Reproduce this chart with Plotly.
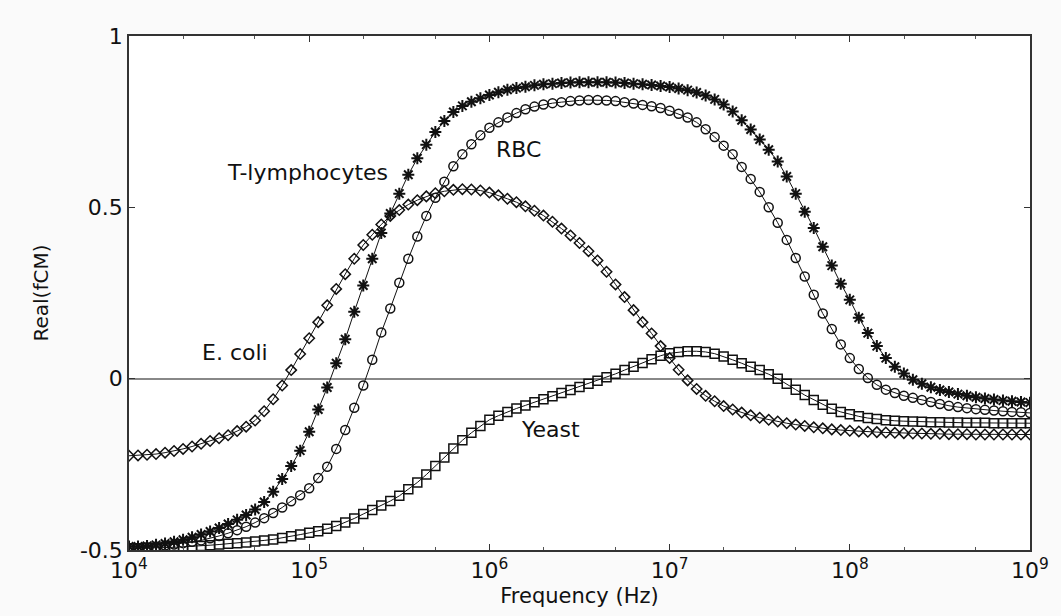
import numpy as np
import plotly.graph_objects as go

# Frequency grid (Hz): 101 log-spaced samples from 1e4 to 1e9
freq = np.logspace(4, 9, 101)

t_lymphocytes = [
    -0.490, -0.490, -0.488, -0.485, -0.481, -0.476, -0.470, -0.463, -0.455, -0.446,
    -0.436, -0.424, -0.412, -0.398, -0.382, -0.360, -0.330, -0.293, -0.255, -0.210,
    -0.155, -0.090, -0.026, 0.045, 0.115, 0.195, 0.272, 0.350, 0.425, 0.482,
    0.540, 0.595, 0.643, 0.683, 0.720, 0.752, 0.778, 0.796, 0.808, 0.818,
    0.828, 0.836, 0.843, 0.848, 0.852, 0.856, 0.859, 0.861, 0.863, 0.864,
    0.865, 0.865, 0.865, 0.865, 0.864, 0.863, 0.861, 0.859, 0.857, 0.854,
    0.851, 0.847, 0.842, 0.835, 0.826, 0.815, 0.800, 0.780, 0.754, 0.727,
    0.698, 0.668, 0.634, 0.590, 0.540, 0.487, 0.440, 0.385, 0.330, 0.277,
    0.230, 0.178, 0.133, 0.095, 0.060, 0.035, 0.015, -0.003, -0.015, -0.025,
    -0.033, -0.039, -0.045, -0.050, -0.054, -0.058, -0.061, -0.064, -0.066, -0.068,
    -0.070,
]

rbc = [
    -0.495, -0.494, -0.492, -0.490, -0.487, -0.484, -0.480, -0.476, -0.472, -0.466,
    -0.459, -0.451, -0.442, -0.432, -0.420, -0.407, -0.392, -0.376, -0.358, -0.340,
    -0.320, -0.290, -0.257, -0.205, -0.150, -0.085, -0.020, 0.055, 0.135, 0.205,
    0.280, 0.350, 0.415, 0.475, 0.528, 0.575, 0.620, 0.655, 0.684, 0.710,
    0.732, 0.748, 0.762, 0.775, 0.786, 0.794, 0.800, 0.804, 0.807, 0.810,
    0.812, 0.813, 0.813, 0.812, 0.810, 0.807, 0.803, 0.799, 0.795, 0.790,
    0.782, 0.773, 0.762, 0.748, 0.728, 0.705, 0.680, 0.655, 0.618, 0.583,
    0.545, 0.500, 0.455, 0.405, 0.352, 0.298, 0.245, 0.190, 0.145, 0.100,
    0.060, 0.028, 0.002, -0.018, -0.032, -0.042, -0.050, -0.056, -0.062, -0.068,
    -0.074, -0.079, -0.083, -0.086, -0.089, -0.091, -0.093, -0.095, -0.097, -0.098,
    -0.100,
]

e_coli = [
    -0.225, -0.224, -0.222, -0.220, -0.216, -0.211, -0.205, -0.198, -0.190, -0.182,
    -0.174, -0.165, -0.153, -0.140, -0.122, -0.095, -0.060, -0.020, 0.025, 0.072,
    0.118, 0.165, 0.214, 0.262, 0.305, 0.350, 0.390, 0.420, 0.450, 0.475,
    0.492, 0.508, 0.521, 0.532, 0.541, 0.547, 0.551, 0.553, 0.552, 0.549,
    0.543, 0.535, 0.525, 0.515, 0.503, 0.490, 0.476, 0.458, 0.438, 0.418,
    0.396, 0.372, 0.345, 0.312, 0.275, 0.238, 0.200, 0.165, 0.132, 0.095,
    0.060, 0.026, -0.005, -0.030, -0.050, -0.066, -0.080, -0.090, -0.099, -0.107,
    -0.114, -0.120, -0.125, -0.130, -0.134, -0.138, -0.142, -0.145, -0.148, -0.150,
    -0.152, -0.154, -0.155, -0.156, -0.157, -0.158, -0.159, -0.160, -0.160, -0.161,
    -0.161, -0.162, -0.162, -0.162, -0.163, -0.163, -0.163, -0.163, -0.163, -0.163,
    -0.163,
]

yeast = [
    -0.495, -0.495, -0.494, -0.494, -0.493, -0.492, -0.491, -0.490, -0.488, -0.486,
    -0.484, -0.482, -0.480, -0.478, -0.475, -0.472, -0.469, -0.465, -0.460, -0.455,
    -0.450, -0.445, -0.438, -0.430, -0.420, -0.408, -0.395, -0.383, -0.370, -0.357,
    -0.342, -0.323, -0.303, -0.280, -0.255, -0.230, -0.204, -0.180, -0.158, -0.138,
    -0.120, -0.108, -0.097, -0.087, -0.078, -0.069, -0.060, -0.051, -0.042, -0.033,
    -0.024, -0.015, -0.006, 0.004, 0.014, 0.025, 0.035, 0.046, 0.057, 0.067,
    0.074, 0.078, 0.080, 0.080, 0.078, 0.073, 0.065, 0.055, 0.045, 0.035,
    0.025, 0.013, 0.000, -0.015, -0.032, -0.048, -0.062, -0.076, -0.088, -0.097,
    -0.104, -0.110, -0.115, -0.118, -0.121, -0.123, -0.124, -0.125, -0.126, -0.127,
    -0.127, -0.128, -0.128, -0.129, -0.129, -0.129, -0.130, -0.130, -0.130, -0.130,
    -0.130,
]

x_tickvals = [1e4, 1e5, 1e6, 1e7, 1e8, 1e9]
x_ticktext = ["10<sup>4</sup>", "10<sup>5</sup>", "10<sup>6</sup>",
              "10<sup>7</sup>", "10<sup>8</sup>", "10<sup>9</sup>"]
y_tickvals = [-0.5, 0, 0.5, 1]
y_ticktext = ["-0.5", "0", "0.5", "1"]

labels = ["T-lymphocytes", "RBC", "E. coli", "Yeast"]
label_x = [10**4.99, 10**6.16, 10**4.59, 10**6.34]
label_y = [0.603, 0.668, 0.076, -0.149]

FONT = "DejaVu Sans, Liberation Sans, Arial, sans-serif"

fig = go.Figure()

series = [
    ("E. coli", e_coli, "diamond-open", 8, 1.5),
    ("Yeast", yeast, "square-open", 9, 1.5),
    ("RBC", rbc, "circle-open", 9, 1.5),
    ("T-lymphocytes", t_lymphocytes, "asterisk-open", 10, 2),
]
for name, vals, sym, size, lw in series:
    fig.add_trace(go.Scatter(
        x=freq, y=vals, name=name, mode="lines+markers",
        line=dict(color="#111111", width=1),
        marker=dict(symbol=sym, size=size, color="#111111",
                    line=dict(color="#111111", width=lw)),
        showlegend=False,
    ))

for txt, lx, ly in zip(labels, label_x, label_y):
    fig.add_annotation(x=np.log10(lx), y=ly, xref="x", yref="y", text=txt,
                       showarrow=False, font=dict(family=FONT, size=22, color="#111"))

axis_common = dict(
    showgrid=False, showline=True, linecolor="#333333", linewidth=1.5,
    mirror="ticks", ticks="inside", ticklen=6, tickcolor="#333333",
    tickfont=dict(family=FONT, size=22, color="#111"),
)

fig.update_xaxes(
    type="log", range=[4, 9], tickvals=x_tickvals, ticktext=x_ticktext,
    minor=dict(ticks="inside", ticklen=3, tickcolor="#555555"),
    title=dict(text="Frequency (Hz)", font=dict(family=FONT, size=21, color="#111"),
               standoff=6),
    **axis_common,
)
fig.update_yaxes(
    range=[-0.5, 1], tickvals=y_tickvals, ticktext=y_ticktext,
    zeroline=True, zerolinecolor="#888888", zerolinewidth=1.5,
    title=dict(text="Real(fCM)", font=dict(family=FONT, size=20, color="#111"),
               standoff=26),
    **axis_common,
)

fig.update_layout(
    width=1061, height=616,
    margin=dict(l=129, r=31, t=36, b=66),
    paper_bgcolor="#fafafa", plot_bgcolor="#ffffff",
)

fig.write_html("out.html")
